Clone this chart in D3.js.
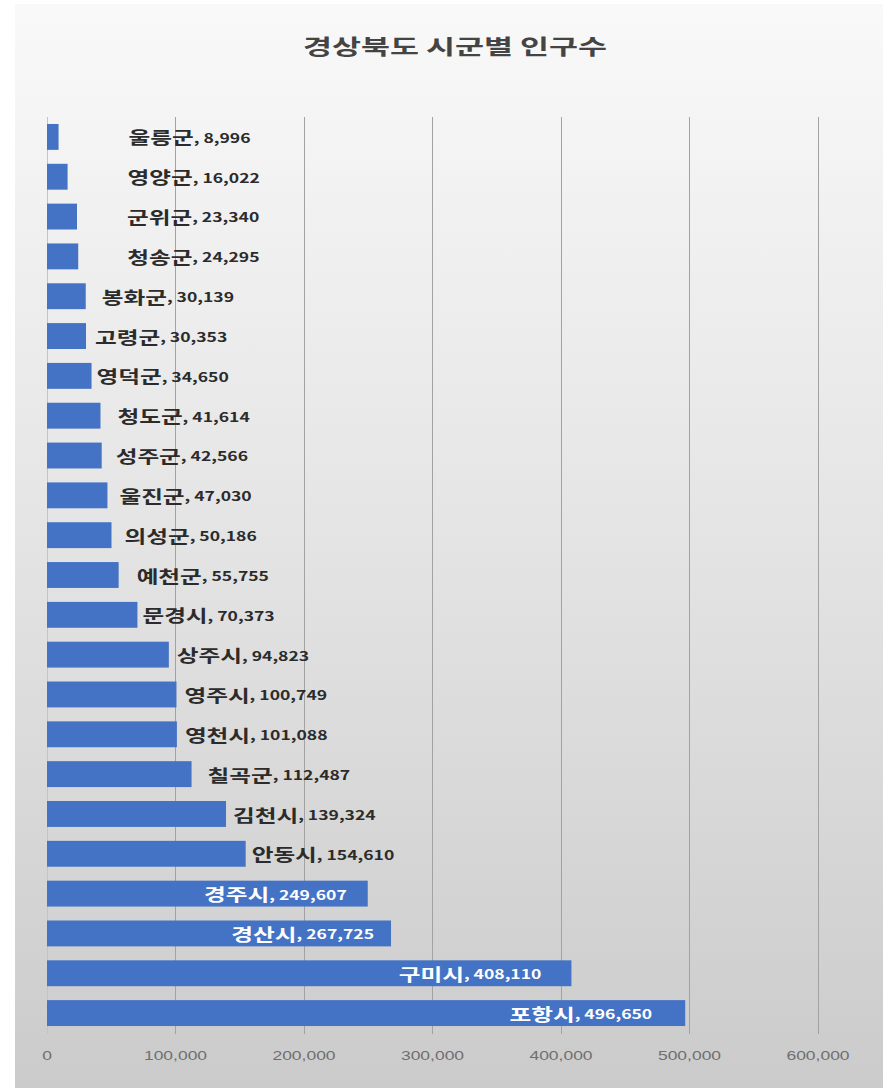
<!DOCTYPE html>
<html>
<head>
<meta charset="utf-8">
<script src="https://cdn.jsdelivr.net/npm/d3@7"></script>
<style>
  html, body { margin: 0; padding: 0; background: #ffffff; }
  svg { display: block; }
</style>
</head>
<body>
<div id="chart"></div>
<script>
// 경상북도 시군별 인구수 (population by city / county)
const regions = ["울릉군","영양군","군위군","청송군","봉화군","고령군","영덕군","청도군","성주군","울진군",
  "의성군","예천군","문경시","상주시","영주시","영천시","칠곡군","김천시","안동시","경주시","경산시","구미시","포항시"];
const population = [8996,16022,23340,24295,30139,30353,34650,41614,42566,47030,
  50186,55755,70373,94823,100749,101088,112487,139324,154610,249607,267725,408110,496650];
const xTicks = [0,100000,200000,300000,400000,500000,600000];

// label placement: pixel gap after the bar end (negative = inside the bar, right aligned)
const labelGap = [70,60,50,49,16,9,5,17,14,12,13,18,5,8,8,8,16,7,6,-21,-17,-30,-33];

const W = 883, H = 1088;
const stretch = 1.35; // horizontal widening of the chart's lettering

const svg = d3.select("#chart").append("svg").attr("width", W).attr("height", H);

const defs = svg.append("defs");
const grad = defs.append("linearGradient").attr("id", "bg").attr("x1", 0).attr("y1", 0).attr("x2", 0).attr("y2", 1);
grad.append("stop").attr("offset", "0%").attr("stop-color", "#f9f9f9");
grad.append("stop").attr("offset", "45%").attr("stop-color", "#e6e6e6");
grad.append("stop").attr("offset", "100%").attr("stop-color", "#cbcbcb");

svg.append("rect").attr("x", 15).attr("y", 4).attr("width", W - 15).attr("height", H - 4).attr("fill", "url(#bg)");

const x = d3.scaleLinear().domain([0, 600000]).range([47, 818]);
const y = d3.scaleBand().domain(regions).range([117, 1033]).paddingInner(0.35).paddingOuter(0.175);

// title
svg.append("text")
  .attr("transform", `translate(455,54) scale(1.5,1)`)
  .attr("text-anchor", "middle")
  .attr("font-family", "'Noto Sans CJK KR', sans-serif")
  .attr("font-weight", "bold")
  .attr("font-size", 21)
  .attr("fill", "#444444")
  .text("경상북도 시군별 인구수");

// vertical gridlines
svg.append("g").selectAll("line").data(xTicks).join("line")
  .attr("x1", d => x(d)).attr("x2", d => x(d))
  .attr("y1", 117).attr("y2", 1034)
  .attr("stroke", d => d === 0 ? "#c4c4c4" : "#a2a2a2")
  .attr("stroke-width", 1)
  .attr("shape-rendering", "crispEdges");

// tick labels
svg.append("g").selectAll("text").data(xTicks).join("text")
  .attr("transform", d => `translate(${x(d)},1060) scale(1.4,1)`)
  .attr("text-anchor", "middle")
  .attr("font-family", "'Liberation Sans', sans-serif")
  .attr("font-size", 12.5)
  .attr("fill", "#6f6f6f")
  .text(d => d3.format(",")(d));

// bars
svg.append("g").selectAll("rect").data(regions).join("rect")
  .attr("x", x(0))
  .attr("y", d => y(d))
  .attr("width", (d, i) => x(population[i]) - x(0))
  .attr("height", y.bandwidth())
  .attr("fill", "#4472c4");

// data labels: "name, value"
const fmt = d3.format(",");
const labels = svg.append("g").selectAll("text").data(regions).join("text")
  .attr("transform", (d, i) => `translate(${x(population[i]) + labelGap[i]},${y(d) + y.bandwidth() / 2}) scale(${stretch},1)`)
  .attr("text-anchor", (d, i) => labelGap[i] < 0 ? "end" : "start")
  .attr("dominant-baseline", "central")
  .attr("font-family", "'Noto Sans CJK KR', sans-serif")
  .attr("font-weight", "bold")
  .attr("fill", (d, i) => labelGap[i] < 0 ? "#ffffff" : "#2b2b2b");
labels.append("tspan").attr("font-size", 17.5).text(d => d);
labels.append("tspan").attr("font-size", 13).text((d, i) => ", " + fmt(population[i]));
</script>
</body>
</html>
